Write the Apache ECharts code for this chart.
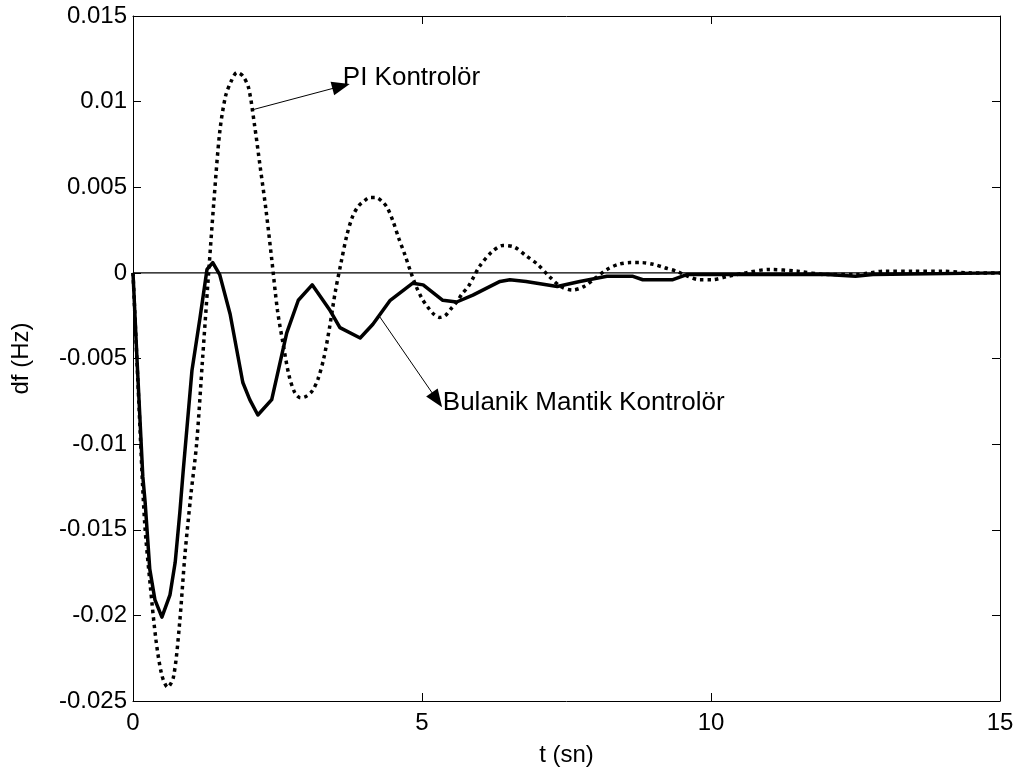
<!DOCTYPE html>
<html>
<head>
<meta charset="utf-8">
<script src="https://cdn.jsdelivr.net/npm/echarts@6/dist/echarts.min.js"></script>
<style>
html,body{margin:0;padding:0;background:#fff;}
#chart{width:1018px;height:776px;}
</style>
</head>
<body>
<div id="chart"></div>
<script>
// ---- data ----
const piT = [0,0.1,0.2,0.3,0.4,0.5,0.6,0.7,0.8,0.9,1.0,1.1,1.2,1.3,1.4,1.5,1.6,1.7,1.8,1.9,2.0,2.1,2.2,2.3,2.4,2.5,2.6,2.7,2.8,2.9,3.0,3.1,3.2,3.3,3.4,3.5,3.6,3.7,3.8,3.9,4.0,4.1,4.2,4.3,4.4,4.5,4.6,4.7,4.8,4.9,5.0,5.1,5.2,5.3,5.4,5.5,5.6,5.7,5.8,5.9,6.0,6.2,6.4,6.6,6.8,7.0,7.2,7.4,7.6,7.8,8.0,8.2,8.4,8.6,8.8,9.0,9.2,9.4,9.6,9.8,10.0,10.3,10.6,11.0,11.5,12.0,12.5,13.0,13.5,14.0,14.5,15];
const piV = [0,-0.0075,-0.0145,-0.0183,-0.0215,-0.0235,-0.0242,-0.0236,-0.0207,-0.0164,-0.0130,-0.0100,-0.0052,-0.0004,0.0042,0.0082,0.0103,0.0112,0.0117,0.0115,0.0108,0.0087,0.0062,0.0037,0.0008,-0.0022,-0.0042,-0.0060,-0.0070,-0.0073,-0.0072,-0.0069,-0.0062,-0.0050,-0.0032,-0.0011,0.0006,0.0022,0.0033,0.0039,0.0042,0.0044,0.0044,0.0042,0.0038,0.0030,0.0020,0.0011,0.0001,-0.0008,-0.0015,-0.0020,-0.0024,-0.0026,-0.0025,-0.0021,-0.0017,-0.0012,-0.0008,-0.0002,0.0004,0.0012,0.0016,0.0015,0.0010,0.0005,-0.0002,-0.0008,-0.0010,-0.0008,-0.0003,0.0002,0.0005,0.0006,0.0006,0.0005,0.0003,0.0001,-0.0002,-0.0004,-0.0004,-0.0002,0.0000,0.0002,0.0001,-0.0001,-0.0001,0.0001,0.0001,0.0001,0.0000,0.0000];
const fuzzyT = [0,0.07,0.17,0.21,0.29,0.38,0.5,0.64,0.73,0.81,0.87,1.02,1.16,1.28,1.38,1.5,1.68,1.9,2.02,2.16,2.4,2.66,2.86,3.1,3.41,3.58,3.93,4.15,4.45,4.84,5.02,5.36,5.6,5.88,6.35,6.52,6.8,7.34,7.73,8.2,8.65,8.82,9.34,9.58,10.5,12.0,12.5,12.8,15];
const fuzzyV = [0,-0.0051,-0.0119,-0.0134,-0.0173,-0.0191,-0.0201,-0.0188,-0.0169,-0.0140,-0.0115,-0.0057,-0.0026,0.0002,0.0006,-0.0001,-0.0024,-0.0064,-0.0074,-0.0083,-0.0074,-0.0035,-0.0016,-0.0007,-0.0022,-0.0032,-0.0038,-0.0030,-0.0016,-0.0006,-0.0007,-0.0016,-0.0017,-0.0013,-0.0005,-0.0004,-0.0005,-0.0008,-0.0005,-0.0002,-0.0002,-0.0004,-0.0004,-0.0001,-0.0001,-0.0001,-0.0002,-0.0001,0];
const xTicks = [0,5,10,15];
const yTicks = ['0.015','0.01','0.005','0','-0.005','-0.01','-0.015','-0.02','-0.025'];
const piLabel = 'PI Kontrolör';
const fuzzyLabel = 'Bulanik Mantik Kontrolör';
// annotation anchors in data coordinates: [arrow start, arrow tip, text anchor]
const piArrow = [[2.04,0.0095],[3.6,0.0109],[3.63,0.0113]];
const fuzzyArrow = [[4.27,-0.00257],[5.26,-0.00742],[5.36,-0.0077]];
const xName = 't (sn)';
const yName = 'df (Hz)';

const FONT = '"Liberation Sans", Arial, sans-serif';
const chart = echarts.init(document.getElementById('chart'), null, {renderer:'canvas'});
const zip = (a,b) => a.map((t,i)=>[t,b[i]]);
const fmtY = v => String(parseFloat((+v).toFixed(4)));

const axisCommon = {
  axisLine:{show:true,onZero:false,lineStyle:{color:'#000',width:1}},
  axisTick:{show:true,inside:true,length:8,lineStyle:{color:'#000',width:1}},
  splitLine:{show:false}
};
function arrowLine(a){
  return [{coord:a[0],symbol:'none'},{coord:a[1],symbol:'triangle'}];
}
chart.setOption({
  animation:false,
  backgroundColor:'#fff',
  grid:{left:133,right:18,top:16,bottom:75,containLabel:false},
  xAxis:[
    Object.assign({type:'value',min:0,max:15,interval:5,position:'bottom',
      name:xName,nameLocation:'middle',nameGap:42,
      nameTextStyle:{fontFamily:FONT,fontSize:24,color:'#000'},
      axisLabel:{fontFamily:FONT,fontSize:24,color:'#000',margin:10,
        formatter:v=>xTicks.indexOf(v)>=0?String(v):''}},axisCommon),
    Object.assign({type:'value',min:0,max:15,interval:5,position:'top',axisLabel:{show:false}},axisCommon)
  ],
  yAxis:[
    Object.assign({type:'value',min:-0.025,max:0.015,interval:0.005,position:'left',
      name:yName,nameLocation:'middle',nameGap:100,nameRotate:90,
      nameTextStyle:{fontFamily:FONT,fontSize:24,color:'#000'},
      axisLabel:{fontFamily:FONT,fontSize:24,color:'#000',margin:6,
        formatter:v=>{const s=fmtY(v);return yTicks.indexOf(s)>=0?s:'';}}},axisCommon),
    Object.assign({type:'value',min:-0.025,max:0.015,interval:0.005,position:'right',axisLabel:{show:false}},axisCommon)
  ],
  series:[
    {
      name:'zero',type:'line',data:[[0,0],[15,0]],symbol:'none',
      lineStyle:{color:'#000',width:1.2},z:1,silent:true
    },
    {
      name:piLabel,type:'line',data:zip(piT,piV),symbol:'none',smooth:0.3,
      lineStyle:{color:'#000',width:3.5,type:[3.5,4],cap:'butt'},z:3,
      markLine:{silent:true,symbolSize:[14,18],lineStyle:{color:'#000',width:1,type:'solid'},
        label:{show:false},data:[arrowLine(piArrow)]}
    },
    {
      name:fuzzyLabel,type:'line',data:zip(fuzzyT,fuzzyV),symbol:'none',
      lineStyle:{color:'#000',width:3.5,type:'solid',join:'round'},z:4,
      markLine:{silent:true,symbolSize:[14,18],lineStyle:{color:'#000',width:1,type:'solid'},
        label:{show:false},data:[arrowLine(fuzzyArrow)]}
    }
  ]
});
function place(){
  const p1 = chart.convertToPixel({gridIndex:0}, piArrow[2]);
  const p2 = chart.convertToPixel({gridIndex:0}, fuzzyArrow[2]);
  chart.setOption({graphic:[
    {type:'text',left:p1[0],top:p1[1]-15,style:{text:piLabel,font:'26px '+FONT,fill:'#000'}},
    {type:'text',left:p2[0],top:p2[1]-15,style:{text:fuzzyLabel,font:'26px '+FONT,fill:'#000'}}
  ]});
}
place();
</script>
</body>
</html>
